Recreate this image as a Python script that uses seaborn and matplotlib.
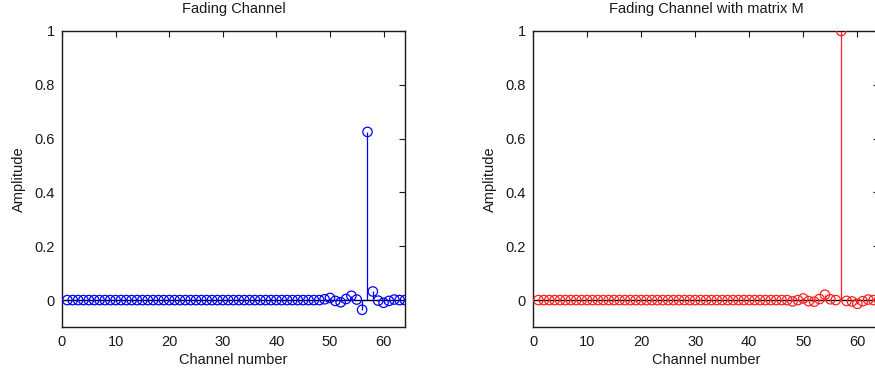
import numpy as np
import pandas as pd
import matplotlib
matplotlib.use("Agg")
import matplotlib.pyplot as plt
import seaborn as sns

# ---- data ----
channels = list(range(1, 65))

fading_sparse = {49: 0.003, 50: 0.008, 51: -0.003, 52: -0.008, 53: 0.004,
                 54: 0.016, 55: 0.002, 56: -0.036, 57: 0.625, 58: 0.032,
                 59: -0.002, 60: -0.010, 61: -0.003, 62: 0.002}
fading = [fading_sparse.get(c, 0.0) for c in channels]

matrix_sparse = {48: -0.005, 50: 0.006, 51: -0.004, 52: -0.006, 53: 0.004,
                 54: 0.020, 55: 0.003, 57: 1.0, 58: -0.003, 59: -0.005,
                 60: -0.014, 61: -0.004, 62: 0.002}
fading_m = [matrix_sparse.get(c, 0.0) for c in channels]

titles = ["Fading Channel", "Fading Channel with matrix M"]
xticks = [0, 10, 20, 30, 40, 50, 60]
yticks = [0, 0.2, 0.4, 0.6, 0.8, 1]
ytick_labels = ["0", "0.2", "0.4", "0.6", "0.8", "1"]

sns.set_style("white")
plt.rcParams['font.family'] = ['Liberation Sans', 'DejaVu Sans']

W, H = 875, 379
fig = plt.figure(figsize=(W / 100, H / 100), dpi=100)

axes_px = [(62, 405), (533, 879)]
top_px, bot_px = 31, 327

series = [(fading, "#0000ff"), (fading_m, "#ff2020")]
fs = 10.5
tc = "#1a1a1a"

for (x0, x1), (vals, col), title in zip(axes_px, series, titles):
    ax = fig.add_axes([x0 / W, 1 - bot_px / H, (x1 - x0) / W, (bot_px - top_px) / H])
    df = pd.DataFrame({"Channel": channels, "Amplitude": vals})
    ax.axhline(0, color="black", lw=1.0, zorder=1)
    ax.vlines(df["Channel"], 0, df["Amplitude"], color=col, lw=0.9, zorder=2)
    sns.scatterplot(data=df, x="Channel", y="Amplitude", ax=ax, marker="o",
                    s=46, facecolors="none", edgecolor=col, linewidth=0.9,
                    zorder=3)
    ax.set_xlim(0, 64)
    ax.set_ylim(-0.1, 1.0)
    ax.set_xticks(xticks)
    ax.set_xticklabels([str(t) for t in xticks])
    ax.set_yticks(yticks)
    ax.set_yticklabels(ytick_labels)
    ax.tick_params(direction="in", length=4, width=0.8, top=True, right=True,
                   labelsize=fs, colors=tc)
    ax.tick_params(axis="x", pad=6)
    ax.tick_params(axis="y", pad=5)
    for s in ax.spines.values():
        s.set_visible(True)
        s.set_color(tc)
        s.set_linewidth(1.0)
    ax.set_title(title, fontsize=fs, pad=13, color=tc)
    ax.set_xlabel("Channel number", fontsize=fs, labelpad=3, color=tc)
    ax.set_ylabel("Amplitude", fontsize=fs, labelpad=6, color=tc)

fig.savefig("out.png", dpi=100)
